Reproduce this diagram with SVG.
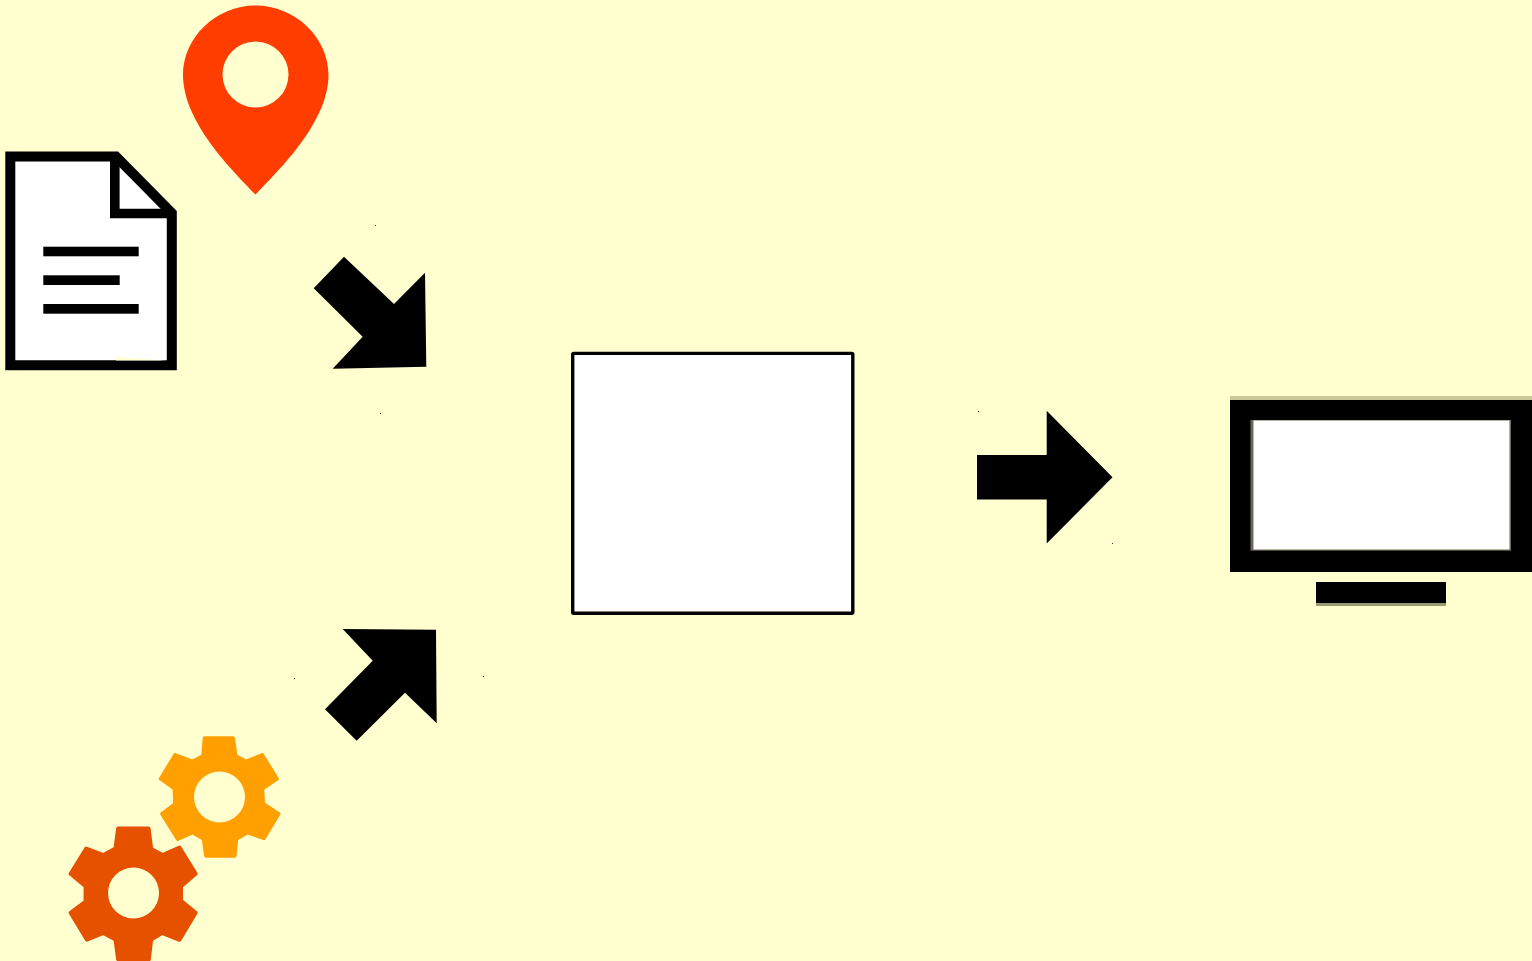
<svg xmlns="http://www.w3.org/2000/svg" width="1532" height="961" viewBox="0 0 1532 961">
<style>
.bg{fill:#ffffd0}
.k{fill:#000}
.w{fill:#fff}
.dot{fill:#333}
.gear{stroke-width:4;stroke-linejoin:round}
</style>
<rect class="bg" width="1532" height="961"/>
<g id="pin">
<path d="M255.500 5.500C215.500 5.500 183 38 183 75C183 122 232 170 255.500 194.500C279 170 328.500 122 328.500 75C328.500 38 295.500 5.500 255.500 5.500Z" fill="#ff3d00"/>
<circle class="bg" cx="255.500" cy="74.500" r="33"/>
</g>
<g id="document">
<path class="w" d="M10.300 156.500H116L171.800 213V365.300H10.300Z" stroke="#000" stroke-width="10"/>
<path class="bg" d="M116 357L166 360.500H116Z"/>
<path d="M114.800 156.500V213.500H171.800" fill="none" stroke="#000" stroke-width="9.600"/>
<rect class="k" x="43.300" y="246.700" width="95.400" height="9.600"/>
<rect class="k" x="43.300" y="275.300" width="76.400" height="9.700"/>
<rect class="k" x="43.300" y="304" width="95.400" height="9.700"/>
</g>
<g id="gear-orange">
<polygon class="gear" fill="#ffa000" stroke="#ffa000" transform="translate(219.500 797) scale(.975) translate(-219.500 -797)" points="204.300,736.700 233.300,736.700 236,755 246.700,760.700 263.300,754 278.300,778.300 263.300,788.300 264.300,804 280,814.300 265,839.300 248.300,833.300 236.700,840 235,857.300 205.700,857.300 203.300,840 191.700,833.300 176.700,840 160.700,814.300 174,804.300 173.300,788.300 159.300,778.300 174,754 191.700,760.700 202.700,755"/>
<circle class="bg" cx="219.500" cy="797" r="25.500"/>
</g>
<g id="gear-red">
<polygon class="gear" fill="#e65100" stroke="#e65100" transform="translate(133 893.500) scale(.975) translate(-133 -893.500)" points="117.700,826.700 149,826.700 151.700,847.700 163.300,854 180.700,846.300 197.300,873.300 182.300,886 182.300,901 197.300,913.300 180.700,941 162.700,934 151.700,940.700 149.300,961 117.700,961 115,940.700 102.700,934 85.700,941 69,913.300 84.300,901.700 84.300,886 69,873.300 85,847.300 102.700,854 115,847.300"/>
<circle class="bg" cx="133.500" cy="893" r="25.500"/>
</g>
<g id="center-box">
<rect class="w" x="572.700" y="353.400" width="280.100" height="259.900" rx="1" stroke="#000" stroke-width="3.400"/>
</g>
<g id="monitor">
<rect x="1230" y="396" width="302" height="4" fill="#c8c898"/>
<rect class="k" x="1230" y="400" width="302" height="172"/>
<rect x="1250.500" y="420" width="260.500" height="130.700" fill="#6b6b55"/>
<rect class="w" x="1253.500" y="420.500" width="256" height="129"/>
<rect x="1316" y="603" width="130" height="3" fill="#9a9a70"/>
<rect class="k" x="1316" y="582" width="130" height="21"/>
</g>
<g id="connectors">
<polygon class="k" points="344,256.700 313.700,288.300 362.700,336.700 332.700,368.700 426.300,366.700 425,272.700 394,304"/>
<polygon class="k" points="342.700,629 436,629.700 436.700,723.300 405,692.700 356.700,740.700 325,709.300 372.700,660.700"/>
<polygon class="k" points="977,455 1046.700,455 1046.700,410.700 1112.500,477.300 1046.700,543.500 1046.700,499.500 977,499.500"/>
<rect class="dot" x="375" y="225" width="1" height="1"/>
<rect class="dot" x="380" y="413" width="1" height="1"/>
<rect class="dot" x="294" y="678" width="1" height="1"/>
<rect class="dot" x="483" y="676" width="1" height="1"/>
<rect class="dot" x="978" y="411" width="1" height="1"/>
<rect class="dot" x="1112" y="543" width="1" height="1"/>
</g>
</svg>
